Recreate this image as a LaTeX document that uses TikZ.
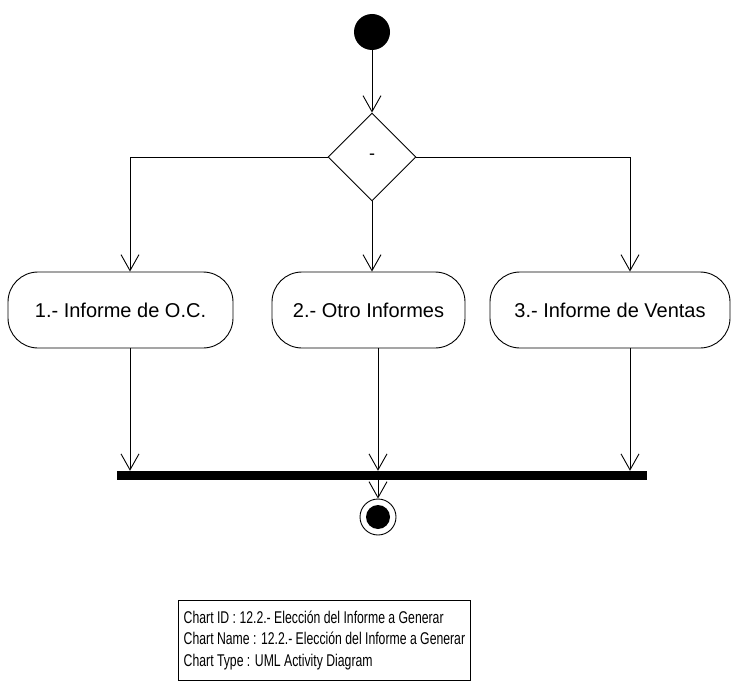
\documentclass[tikz,border=0pt]{standalone}
\usepackage{fontspec}
\setmainfont{Liberation Sans}
\newfontfamily\legendfont{Liberation Sans}[FakeStretch=0.72]
\usetikzlibrary{arrows.meta,shapes.geometric}
\begin{document}
\begin{tikzpicture}[x=1pt,y=-1pt,
  flow/.style={draw=black, line width=0.9pt,
    -{Straight Barb[length=16pt,width=18pt,line width=0.9pt]}},
  activity/.style={draw=black, line width=0.9pt, rectangle, rounded corners=30pt,
    minimum height=76pt, inner sep=0pt, font=\fontsize{20}{24}\selectfont},
  decision/.style={draw=black, line width=0.9pt, diamond, aspect=1,
    minimum width=88pt, minimum height=88pt, inner sep=0pt,
    font=\fontsize{18}{20}\selectfont},
  legend/.style={draw=black, line width=0.9pt, rectangle, align=left,
    font=\legendfont\fontsize{17}{21.5}\selectfont, inner xsep=4pt, inner ysep=0pt,
    minimum width=292pt, minimum height=80pt, anchor=north west}]
\useasboundingbox (0,0) rectangle (734,682);

% start and decision
\node[circle, fill=black, minimum size=36pt, inner sep=0pt] (start) at (372,32) {};
\node[decision] (dec) at (372,157) {\raisebox{-2pt}{-}};

% the three activities
\node[activity, minimum width=225pt] (act1) at (120.5,310) {1.- Informe de O.C.};
\node[activity, minimum width=193pt] (act2) at (368.5,310) {2.- Otro Informes};
\node[activity, minimum width=240pt] (act3) at (610,310) {3.- Informe de Ventas};

% synchronisation bar
\node[fill=black, rectangle, minimum width=530pt, minimum height=9pt, inner sep=0pt] (bar) at (382,475.5) {};

% final state
\node[circle, draw=black, line width=0.9pt, minimum size=36pt, inner sep=0pt] (end) at (378,517) {};
\node[circle, fill=black, minimum size=24pt, inner sep=0pt] (endDot) at (end) {};

% legend
\node[legend] (info) at (178,600) {Chart ID : 12.2.- Elección del Informe a Generar\\
Chart Name : 12.2.- Elección del Informe a Generar\\
Chart Type : UML Activity Diagram};

% connectors
\draw[flow] (start) -- (dec);
\draw[flow] (dec.west) -| ([xshift=9.5pt]act1.north);
\draw[flow] (dec.south) -- (dec.south |- act2.north);
\draw[flow] (dec.east) -| ([xshift=20pt]act3.north);
\draw[flow] ([xshift=9.5pt]act1.south) -- ([xshift=9.5pt]act1.south |- bar.north);
\draw[flow] ([xshift=9.5pt]act2.south) -- ([xshift=9.5pt]act2.south |- bar.north);
\draw[flow] ([xshift=20pt]act3.south) -- ([xshift=20pt]act3.south |- bar.north);
\draw[flow] (bar.south -| end) -- (end.north);
\end{tikzpicture}
\end{document}
